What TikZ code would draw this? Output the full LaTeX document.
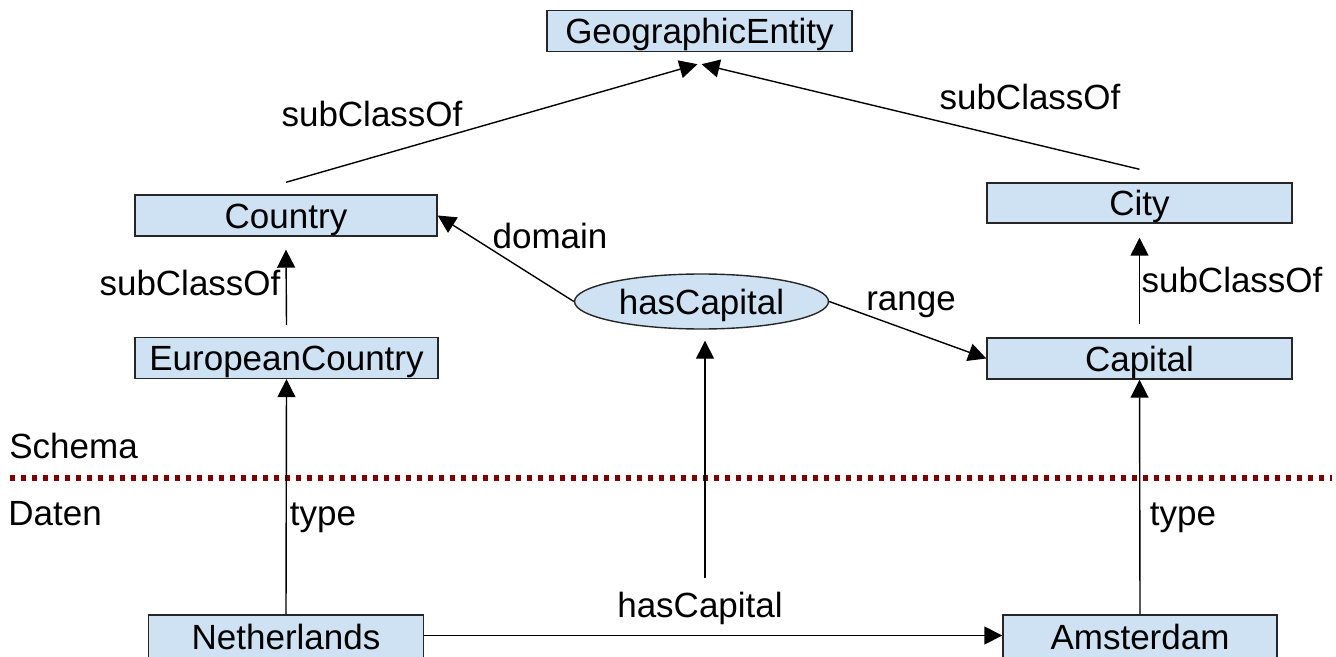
\documentclass[tikz,border=0pt]{standalone}
\usepackage{fontspec}
\setmainfont{Liberation Sans}
\usepackage{tikz}
\usetikzlibrary{shapes.geometric, arrows.meta}
\definecolor{clsblue}{HTML}{CFE2F3}
\definecolor{sepred}{HTML}{7F0000}
\tikzstyle{cls} = [rectangle, draw=black!85, line width=0.7pt, fill=clsblue, inner sep=0pt, minimum height=20.5pt, text height=12.6pt, text depth=0pt]
\tikzstyle{prop} = [ellipse, draw=black!85, line width=0.7pt, fill=clsblue, inner sep=0pt, minimum width=127pt, minimum height=27.5pt, text height=12.6pt, text depth=0pt]
\tikzstyle{lbl} = [inner sep=0pt, text height=12.6pt, text depth=0pt]
\tikzstyle{arrow} = [line width=0.7pt,-{Triangle[length=9pt,width=9pt]}]
\tikzstyle{sep} = [sepred, line width=3pt, dash pattern=on 2.6pt off 2.9pt]

\begin{document}
\begin{tikzpicture}[x=0.5pt, y=-0.5pt, font=\fontsize{17.5}{21}\selectfont]
\useasboundingbox (0,0) rectangle (1336,657);

% schema
\node (geo) [cls, minimum width=152.5pt] at (699.5,31) {GeographicEntity};
\node (country) [cls, minimum width=151pt] at (286,215.5) {Country};
\node (city) [cls, minimum width=152.5pt, minimum height=20pt] at (1139.5,203) {City};
\node (eu) [cls, minimum width=151.5pt] at (286.5,358) {EuropeanCountry};
\node (capital) [cls, minimum width=152.5pt] at (1139.5,358.5) {Capital};
\node (hascap) [prop] at (701.5,301.5) {hasCapital};

% data
\node (nl) [cls, minimum width=137.5pt, minimum height=22pt] at (286,637) {Netherlands};
\node (ams) [cls, minimum width=137pt, minimum height=22pt] at (1140,637) {Amsterdam};

% labels
\node (sub1) [lbl] at (372,114) {subClassOf};
\node (sub2) [lbl] at (1030,97) {subClassOf};
\node (dom) [lbl] at (550,236) {domain};
\node (rng) [lbl] at (911,298) {range};
\node (sub3) [lbl] at (190,283) {subClassOf};
\node (sub4) [lbl] at (1232,280) {subClassOf};
\node (type1) [lbl] at (323,513) {type};
\node (type2) [lbl] at (1183,513) {type};
\node (hclbl) [lbl] at (700,605) {hasCapital};
\node (schema) [lbl, anchor=west] at (9,446) {Schema};
\node (daten) [lbl, anchor=west] at (8,513) {Daten};

% separator
\coordinate (sepl) at (10,477.5);
\coordinate (sepr) at (1332,477.5);
\draw [sep] (sepl) -- (sepr);

\coordinate (hcfoot) at (705,578);
\coordinate (hctop) at (hcfoot |- hascap.south);

\draw [arrow] ([yshift=6pt]country.north) -- ([xshift=-1pt,yshift=-6pt]geo.south);
\draw [arrow] ([yshift=6.5pt]city.north) -- ([xshift=1pt,yshift=-6pt]geo.south);
\draw [arrow] ([yshift=6pt]eu.north) -- ([yshift=-6.5pt]country.south);
\draw [arrow] ([yshift=6.5pt]capital.north) -- ([yshift=-7pt]city.south);
\draw [arrow] (hascap.west) -- (country.east);
\draw [arrow] (hascap.east) -- (capital.west);
\draw [arrow] (nl.north) -- (eu.south);
\draw [arrow] (ams.north) -- (capital.south);
\draw [arrow] (hcfoot) -- ([yshift=-5.5pt]hctop);
\draw [arrow] ([yshift=0.75pt]nl.east) -- ([yshift=0.75pt]ams.west);
\end{tikzpicture}
\end{document}
